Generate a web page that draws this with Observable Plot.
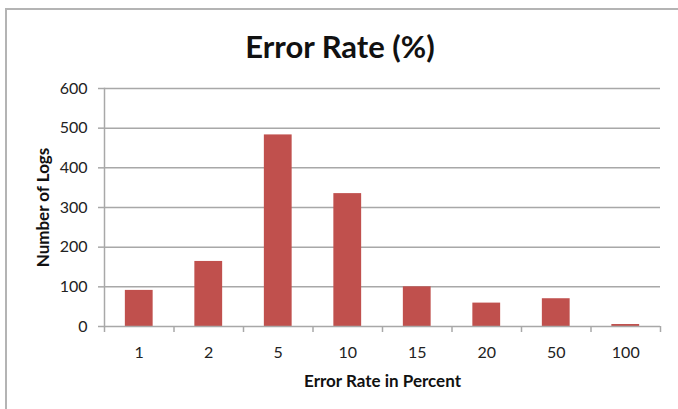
<!DOCTYPE html>
<html><head><meta charset="utf-8">
<script src="https://cdn.jsdelivr.net/npm/d3@7"></script>
<script src="https://cdn.jsdelivr.net/npm/@observablehq/plot@0.6"></script>
<style>
body{margin:0;background:#fff;font-family:Lato,sans-serif;}
#wrap{position:relative;width:678px;height:409px;overflow:hidden;background:#fff}
#frame{position:absolute;left:5px;top:8px;width:700px;height:420px;border-left:2px solid #b4b4b4;border-top:2px solid #b4b4b4;box-sizing:border-box}
#title{position:relative;height:70px;box-sizing:border-box;padding-top:31px;width:680px;text-align:center;font:bold 31px/30px Lato,sans-serif;color:#111}
#chart{position:relative}
</style></head>
<body>
<div id="wrap"><div id="frame"></div><div id="title">Error Rate (%)</div><div id="chart"></div></div>
<script>
const categories = ["1", "2", "5", "10", "15", "20", "50", "100"];
const logCounts = [91, 164, 483, 335, 100, 59, 70, 5];
const yTicks = [0, 100, 200, 300, 400, 500, 600];
const data = categories.map((c, i) => ({rate: c, count: logCounts[i]}));

const W = 678, H = 339, ML = 104, MR = 18;
const step = (W - ML - MR) / categories.length;
const grey = "#a8a8a8";

const chart = Plot.plot({
  width: W, height: H,
  marginLeft: ML, marginRight: MR, marginTop: 18, marginBottom: 83,
  style: {fontFamily: "Lato, sans-serif", fontSize: "16px", color: "#222", background: "transparent"},
  x: {domain: categories, paddingInner: 0.6, paddingOuter: 0.3, round: false},
  y: {domain: [0, 600]},
  marks: [
    Plot.gridY(yTicks.slice(1), {stroke: grey, strokeOpacity: 1, strokeWidth: 1.5}),
    Plot.barY(data, {x: "rate", y: "count", fill: "#C0504D"}),
    Plot.ruleY([0], {stroke: grey, strokeWidth: 1.5}),
    Plot.frame({anchor: "left", stroke: grey, strokeWidth: 1.5}),
    Plot.ruleX(categories, {x: d => d, y1: 0, y2: 0, insetBottom: -6, dx: -step / 2, stroke: grey, strokeWidth: 1.5}),
    Plot.ruleX(categories.slice(-1), {x: d => d, y1: 0, y2: 0, insetBottom: -6, dx: step / 2, stroke: grey, strokeWidth: 1.5}),
    Plot.axisY(yTicks, {tickSize: 6, tickPadding: 11, stroke: grey, strokeWidth: 1.5, fill: "#222", label: null}),
    Plot.axisY([], {label: "Number of Logs", labelArrow: "none", labelAnchor: "center", labelOffset: 68, fontWeight: "bold", fontSize: 17, fill: "#111"}),
    Plot.axisX({tickSize: 0, tickPadding: 20, fill: "#222", label: null}),
    Plot.axisX([], {label: "Error Rate in Percent", labelArrow: "none", labelAnchor: "center", labelOffset: 60, fontWeight: "bold", fontSize: 17, fill: "#111"})
  ]
});
document.getElementById("chart").appendChild(chart);
</script>
</body></html>
